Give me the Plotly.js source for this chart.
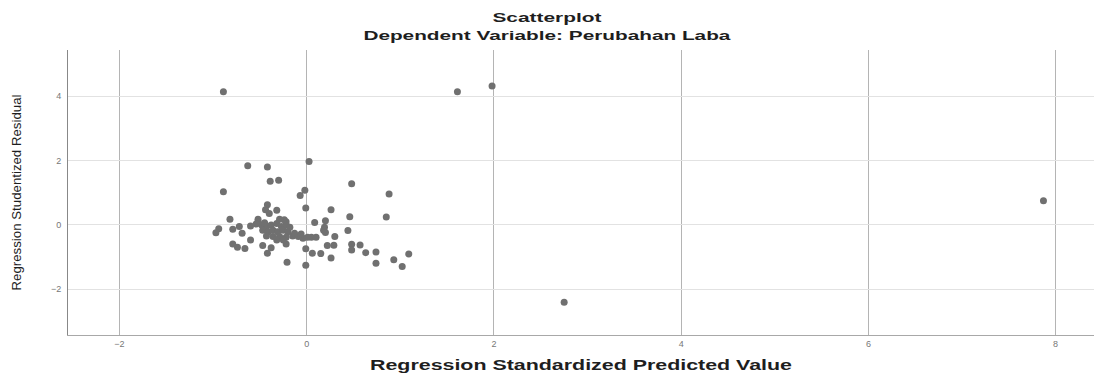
<!DOCTYPE html>
<html>
<head>
<meta charset="utf-8">
<script src="https://cdn.plot.ly/plotly-3.0.1.min.js"></script>
<style>html,body{margin:0;padding:0;background:#fff;}#chart{width:1094px;height:373px;}</style>
</head>
<body>
<div id="chart"></div>
<script>
const mainTitle = "Scatterplot";
const subTitle = "Dependent Variable: Perubahan Laba";
const xTitle = "Regression Standardized Predicted Value";
const yTitle = "Regression Studentized Residual";
const xTickVals = [-2, 0, 2, 4, 6, 8];
const yTickVals = [-2, 0, 2, 4];

const predicted = [
  -0.89, 1.61, 1.98, 7.87, 2.75,
  -0.63, -0.42, 0.025, -0.39, -0.30, -0.89, 0.48, 0.88, -0.02, -0.07,
  -0.01, 0.26, -0.42, -0.44, -0.32, -0.40, 0.46, 0.85, -0.82, -0.52,
  -0.24, -0.22, 0.085, 0.20, -0.94, -0.97, -0.79, -0.72, -0.69, -0.60,
  0.19, 0.18, 0.20, 0.44, 0.30, -0.60, -0.79, -0.74, -0.66, -0.47,
  -0.38, -0.42, -0.22, -0.01, 0.06, 0.15, 0.22, 0.29, 0.48, 0.57,
  0.48, 0.63, 0.74, 0.26, -0.21, -0.01, 0.74, 0.93, 1.02, 1.09,
  0.05, 0.10,
  -0.48, -0.43, -0.38, -0.32, -0.27, -0.22, -0.47, -0.41, -0.36, -0.31,
  -0.25, -0.20, -0.43, -0.36, -0.29, -0.22, -0.15, -0.09, -0.04, -0.13,
  -0.32, -0.25, -0.52, -0.29, -0.45, -0.18, -0.06, 0.01, -0.54
];
const residual = [
  4.14, 4.14, 4.32, 0.75, -2.40,
  1.84, 1.80, 1.97, 1.36, 1.39, 1.03, 1.28, 0.96, 1.08, 0.92,
  0.53, 0.47, 0.63, 0.47, 0.46, 0.36, 0.26, 0.25, 0.18, 0.18,
  0.16, 0.10, 0.08, 0.13, -0.12, -0.24, -0.13, -0.05, -0.26, -0.03,
  -0.07, -0.16, -0.23, -0.17, -0.36, -0.47, -0.59, -0.69, -0.73, -0.64,
  -0.71, -0.88, -0.59, -0.74, -0.88, -0.89, -0.64, -0.63, -0.60, -0.62,
  -0.78, -0.86, -0.84, -1.03, -1.16, -1.25, -1.19, -1.08, -1.29, -0.90,
  -0.38, -0.38,
  0.00, -0.05, 0.00, 0.05, -0.05, 0.00, -0.16, -0.21, -0.16, -0.21,
  -0.16, -0.21, -0.34, -0.36, -0.36, -0.38, -0.34, -0.36, -0.41, -0.26,
  -0.47, -0.47, 0.10, 0.18, 0.07, -0.07, -0.28, -0.38, 0.03
];

const trace = {
  x: predicted,
  y: residual,
  mode: 'markers',
  type: 'scatter',
  marker: {color: '#707070', size: 7, line: {width: 0}},
  hoverinfo: 'x+y'
};

const titleFont = {family: 'Liberation Sans, Arial, sans-serif', size: 13, color: '#1e1e1e'};

const layout = {
  width: 1094,
  height: 373,
  paper_bgcolor: '#ffffff',
  plot_bgcolor: '#ffffff',
  showlegend: false,
  margin: {l: 68, r: 0, t: 50, b: 38},
  annotations: [
    {text: '<b>' + mainTitle + '</b>', xref: 'paper', yref: 'paper', x: 0.4669, y: 1.1123,
     xanchor: 'center', yanchor: 'middle', showarrow: false, font: titleFont},
    {text: '<b>' + subTitle + '</b>', xref: 'paper', yref: 'paper', x: 0.4669, y: 1.0526,
     xanchor: 'center', yanchor: 'middle', showarrow: false, font: titleFont}
  ],
  xaxis: {
    range: [-2.55, 8.41],
    tickvals: xTickVals,
    ticks: '',
    showgrid: true,
    gridcolor: '#b4b4b4',
    gridwidth: 1,
    zeroline: false,
    showline: true,
    linecolor: '#a8a8a8',
    linewidth: 1,
    tickfont: {family: 'Liberation Sans', size: 9, color: '#777'},
    title: {text: '<b>' + xTitle + '</b>', font: {family: 'Liberation Sans, Arial, sans-serif', size: 14, color: '#1e1e1e'}, standoff: 12}
  },
  yaxis: {
    range: [-3.42, 5.44],
    tickvals: yTickVals,
    ticks: '',
    showgrid: true,
    gridcolor: '#e2e2e2',
    gridwidth: 1,
    zeroline: false,
    showline: true,
    linecolor: '#888888',
    linewidth: 1,
    ticklabelstandoff: 4,
    tickfont: {family: 'Liberation Sans', size: 9, color: '#777'},
    title: {text: yTitle, font: {family: 'Liberation Sans, Arial, sans-serif', size: 12, color: '#1e1e1e'}, standoff: 26}
  }
};

function stretch(el, len) {
  if (!el) return;
  el.setAttribute('textLength', len);
  el.setAttribute('lengthAdjust', 'spacingAndGlyphs');
}

Plotly.newPlot('chart', [trace], layout, {displayModeBar: false, staticPlot: true}).then(function (gd) {
  const ann = gd.querySelectorAll('.annotation-text');
  stretch(ann[0], 109);
  stretch(ann[1], 367);
  stretch(gd.querySelector('.g-xtitle text'), 422);
  stretch(gd.querySelector('.g-ytitle text'), 196);
});
</script>
</body>
</html>
